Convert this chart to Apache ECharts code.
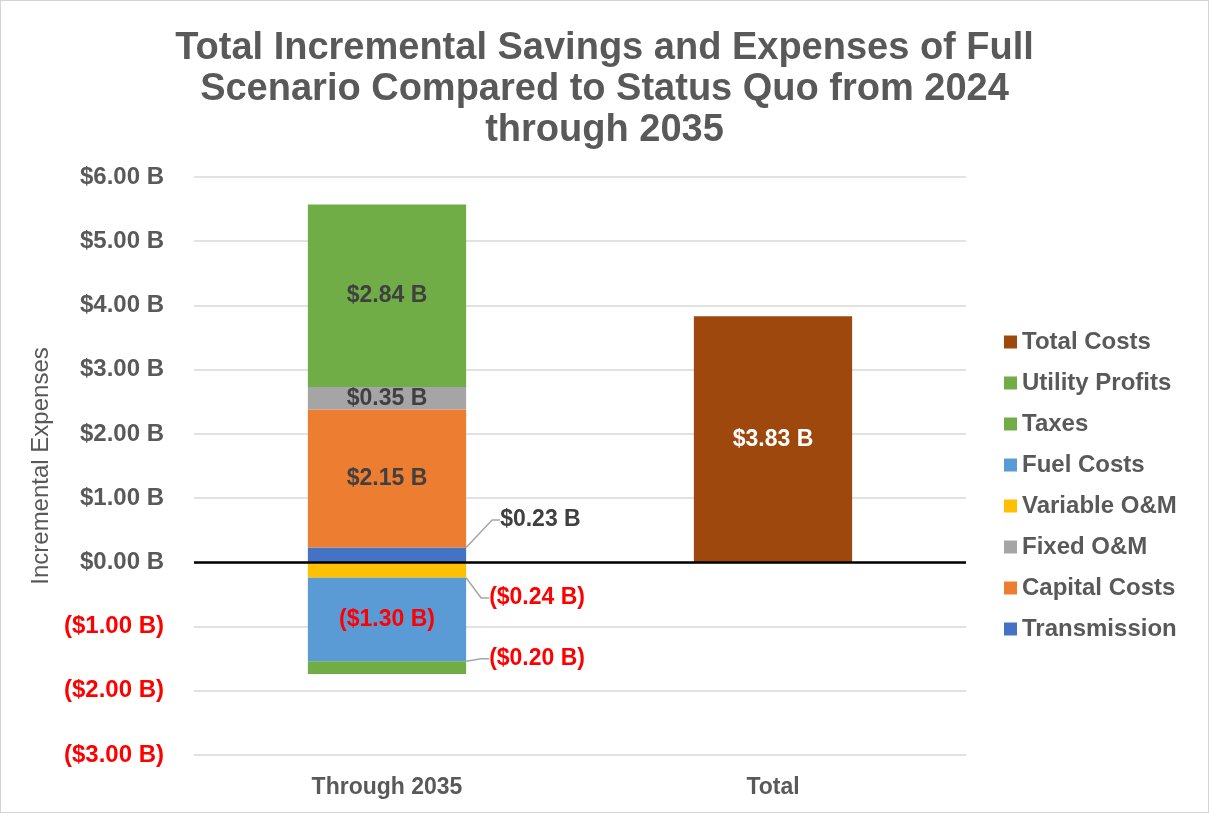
<!DOCTYPE html>
<html>
<head>
<meta charset="utf-8">
<script src="https://cdn.jsdelivr.net/npm/echarts@6/dist/echarts.min.js"></script>
<style>
  html, body { margin: 0; padding: 0; background: #fff; }
  #chart { width: 1207px; height: 811px; border: 1px solid #d4d4d4; }
</style>
</head>
<body>
<div id="chart"></div>
<script>
const categories = ['Through 2035', 'Total'];
const transmission = [0.23, '-'];
const capitalCosts = [2.15, '-'];
const fixedOM = [0.35, '-'];
const utilityProfits = [2.84, '-'];
const variableOM = [-0.24, '-'];
const fuelCosts = [-1.30, '-'];
const taxes = [-0.20, '-'];
const totalCosts = ['-', 3.83];
const legendOrder = ['Total Costs', 'Utility Profits', 'Taxes', 'Fuel Costs', 'Variable O&M', 'Fixed O&M', 'Capital Costs', 'Transmission'];

const FONT = '"Liberation Sans", Arial, sans-serif';
const GREY = '#595959';

function money(v) {
  const s = '$' + Math.abs(v).toFixed(2) + ' B';
  return v < 0 ? '(' + s + ')' : s;
}

const chart = echarts.init(document.getElementById('chart'));

function bar(name, data, color, labelOpt) {
  return {
    name: name,
    type: 'bar',
    stack: 'all',
    data: data,
    barWidth: '41%',
    itemStyle: {color: color},
    label: Object.assign({
      show: true,
      position: 'inside',
      fontFamily: FONT,
      fontWeight: 'bold',
      fontSize: 23,
      color: '#404040',
      formatter: p => money(p.value)
    }, labelOpt || {})
  };
}

// labels pulled out to the right with a leader line
function outside(name, data, color, dx, dy, textColor) {
  const s = bar(name, data, color, {position: 'right', distance: 4, color: textColor});
  s.labelLayout = {dx: dx, dy: dy};
  s.labelLine = {show: true, length2: 8, lineStyle: {color: '#a6a6a6', width: 1.5}};
  return s;
}

chart.setOption({
  animation: false,
  title: {
    text: 'Total Incremental Savings and Expenses of Full\nScenario Compared to Status Quo from 2024\nthrough 2035',
    left: 'center',
    top: 22,
    textStyle: {
      fontFamily: FONT,
      fontWeight: 'bold',
      fontSize: 38,
      lineHeight: 41,
      color: GREY
    }
  },
  legend: {
    orient: 'vertical',
    left: 998,
    top: 324,
    itemWidth: 13,
    itemHeight: 13,
    itemGap: 17,
    icon: 'rect',
    data: legendOrder,
    textStyle: {fontFamily: FONT, fontWeight: 'bold', fontSize: 24, color: GREY}
  },
  grid: {left: 193, right: 242, top: 176, bottom: 57},
  xAxis: {
    type: 'category',
    data: categories,
    axisLine: {show: false},
    axisTick: {show: false},
    axisLabel: {fontFamily: FONT, fontWeight: 'bold', fontSize: 23, color: GREY, margin: 21}
  },
  yAxis: {
    type: 'value',
    min: -3,
    max: 6,
    interval: 1,
    name: 'Incremental Expenses',
    nameLocation: 'middle',
    nameGap: 132,
    nameTextStyle: {fontFamily: FONT, fontSize: 24, color: GREY},
    axisLine: {show: false},
    axisTick: {show: false},
    splitLine: {lineStyle: {color: '#d9d9d9', width: 1.5}},
    axisLabel: {
      fontFamily: FONT,
      fontWeight: 'bold',
      fontSize: 24,
      color: GREY,
      margin: 30,
      formatter: v => v < 0 ? '{neg|' + money(v) + '}' : money(v),
      rich: {neg: {color: '#ff0000', fontFamily: FONT, fontWeight: 'bold', fontSize: 24}}
    }
  },
  series: [
    Object.assign(outside('Transmission', transmission, '#4472c4', 30, -35, '#404040'), {
      markLine: {
        silent: true,
        symbol: 'none',
        label: {show: false},
        lineStyle: {color: '#000', width: 2.5, type: 'solid'},
        data: [{yAxis: 0}]
      }
    }),
    bar('Capital Costs', capitalCosts, '#ed7d31'),
    bar('Fixed O&M', fixedOM, '#a5a5a5'),
    bar('Utility Profits', utilityProfits, '#70ad47'),
    outside('Variable O&M', variableOM, '#ffc000', 19, 28, '#ff0000'),
    bar('Fuel Costs', fuelCosts, '#5b9bd5', {color: '#ff0000'}),
    outside('Taxes', taxes, '#70ad47', 19, -9, '#ff0000'),
    bar('Total Costs', totalCosts, '#9e480e', {color: '#ffffff'})
  ]
});
</script>
</body>
</html>
